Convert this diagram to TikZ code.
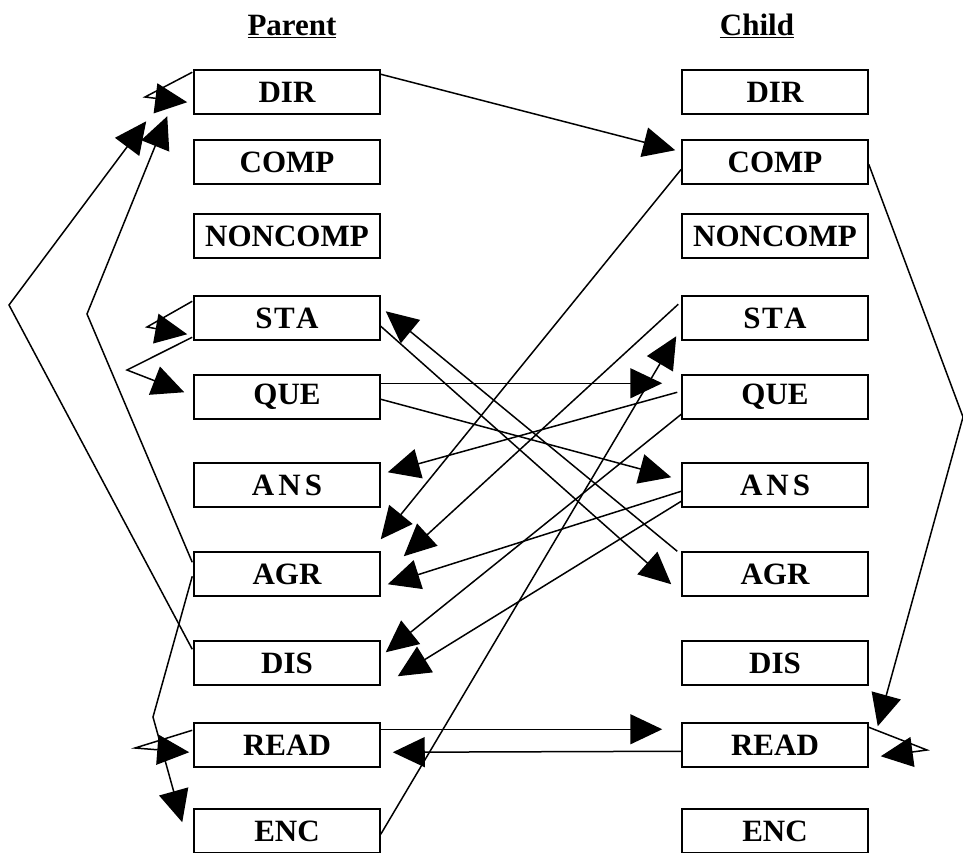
\documentclass[tikz,border=0pt]{standalone}
\usepackage{fontspec}
\setmainfont{Liberation Serif}
\usetikzlibrary{arrows.meta,calc}
\begin{document}
\begin{tikzpicture}[x=1pt,y=-1pt,
  box/.style={draw,line width=1.5pt,minimum width=186pt,minimum height=44pt,inner sep=0pt,font=\fontsize{31}{31}\selectfont\bfseries},
  conn/.style={line width=1.5pt,-{Triangle[length=32pt,width=30pt]}},
  hdr/.style={font=\fontsize{31}{31}\selectfont\bfseries}]
\useasboundingbox (0,0) rectangle (963,852);
% headers
\node[hdr] (hp) at (292,26) {\underline{Parent}};
\node[hdr] (hc) at (757,26) {\underline{Child}};
% parent column
\node[box] (pDIR) at (287,92) {DIR};
\node[box] (pCOMP) at (287,162) {COMP};
\node[box] (pNONCOMP) at (287,236) {NONCOMP};
\node[box] (pSTA) at (287,318) {S\kern1.5pt T\kern1.5pt A};
\node[box] (pQUE) at (287,397) {QUE};
\node[box] (pANS) at (287,485) {A\kern4pt N\kern4pt S};
\node[box] (pAGR) at (287,574) {AGR};
\node[box] (pDIS) at (287,663) {DIS};
\node[box] (pREAD) at (287,745) {READ};
\node[box] (pENC) at (287,831) {ENC};
% child column
\node[box] (cDIR) at (775,92) {DIR};
\node[box] (cCOMP) at (775,162) {COMP};
\node[box] (cNONCOMP) at (775,236) {NONCOMP};
\node[box] (cSTA) at (775,318) {S\kern1.5pt T\kern1.5pt A};
\node[box] (cQUE) at (775,397) {QUE};
\node[box] (cANS) at (775,485) {A\kern4pt N\kern4pt S};
\node[box] (cAGR) at (775,574) {AGR};
\node[box] (cDIS) at (775,663) {DIS};
\node[box] (cREAD) at (775,745) {READ};
\node[box] (cENC) at (775,831) {ENC};
% helper coordinates
\coordinate (kV) at (9,305);
\coordinate (kW) at (87,314);
\coordinate (kQ) at (145,97);
\coordinate (kR) at (147,327);
\coordinate (kS) at (127,370);
\coordinate (kT) at (135,748);
\coordinate (kU) at (153,717);
\coordinate (kM) at (963,417);
\coordinate (kN) at (927,750);
% connectors between the columns
\draw[conn] ($(pDIR.north east)+(0,5)$) -- ($(cCOMP.north west)+(-6,11)$);
\draw[conn] ($(cCOMP.north west)+(0,30)$) -- ($(pAGR.north east)+(0,-12)$);
\draw[conn] ($(cSTA.north west)+(-3,9)$) -- ($(pAGR.north east)+(23,5)$);
\draw[conn] ($(pSTA.north east)+(0,31)$) -- ($(cAGR.north west)+(-10,33)$);
\draw[conn] ($(cAGR.north west)+(-4,0)$) -- ($(pSTA.north east)+(5,16)$);
\draw[conn] ($(pQUE.north east)+(0,9)$) -- ($(cQUE.north west)+(-19,9)$);
\draw[conn] ($(pQUE.north east)+(0,25)$) -- ($(cANS.north west)+(-10,15)$);
\draw[conn] ($(cQUE.north west)+(-4,18)$) -- ($(pANS.north east)+(7,10)$);
\draw[conn] ($(cQUE.north west)+(0,40)$) -- ($(pDIS.north east)+(5,12)$);
\draw[conn] ($(cANS.north west)+(0,29)$) -- ($(pAGR.north east)+(7,33)$);
\draw[conn] ($(cANS.north west)+(0,39)$) -- ($(pDIS.north east)+(17,36)$);
\draw[conn] ($(pENC.north east)+(0,26)$) -- ($(cSTA.north west)+(-5,41)$);
\draw[conn] ($(pREAD.north east)+(0,7)$) -- ($(cREAD.north west)+(-19,7)$);
\draw[conn] ($(cREAD.north west)+(0,29)$) -- ($(pREAD.north east)+(12,30)$);
% child side loops
\draw[conn] ($(cCOMP.north east)+(0,25)$) -- (kM) -- ($(cREAD.north east)+(9,4)$);
\draw[conn] ($(cREAD.north east)+(0,5)$) -- (kN) -- ($(cREAD.north east)+(12,34)$);
% parent side loops
\draw[conn] ($(pDIR.north west)+(-1,3)$) -- (kQ) -- ($(pDIR.north west)+(-6,33)$);
\draw[conn] ($(pSTA.north west)+(-1,6)$) -- (kR) -- ($(pSTA.north west)+(-6,39)$);
\draw[conn] ($(pSTA.north west)+(-1,42)$) -- (kS) -- ($(pQUE.north west)+(-9,18)$);
\draw[conn] ($(pREAD.north west)+(-1,8)$) -- (kT) -- ($(pREAD.north west)+(-4,30)$);
\draw[conn] ($(pAGR.north west)+(-1,25)$) -- (kU) -- ($(pENC.north west)+(-11,14)$);
\draw[conn] ($(pDIS.north west)+(-1,9)$) -- (kV) -- ($(pDIR.north west)+(-47,52)$);
\draw[conn] ($(pAGR.north west)+(-1,11)$) -- (kW) -- ($(pDIR.north west)+(-26,47)$);
\end{tikzpicture}
\end{document}
